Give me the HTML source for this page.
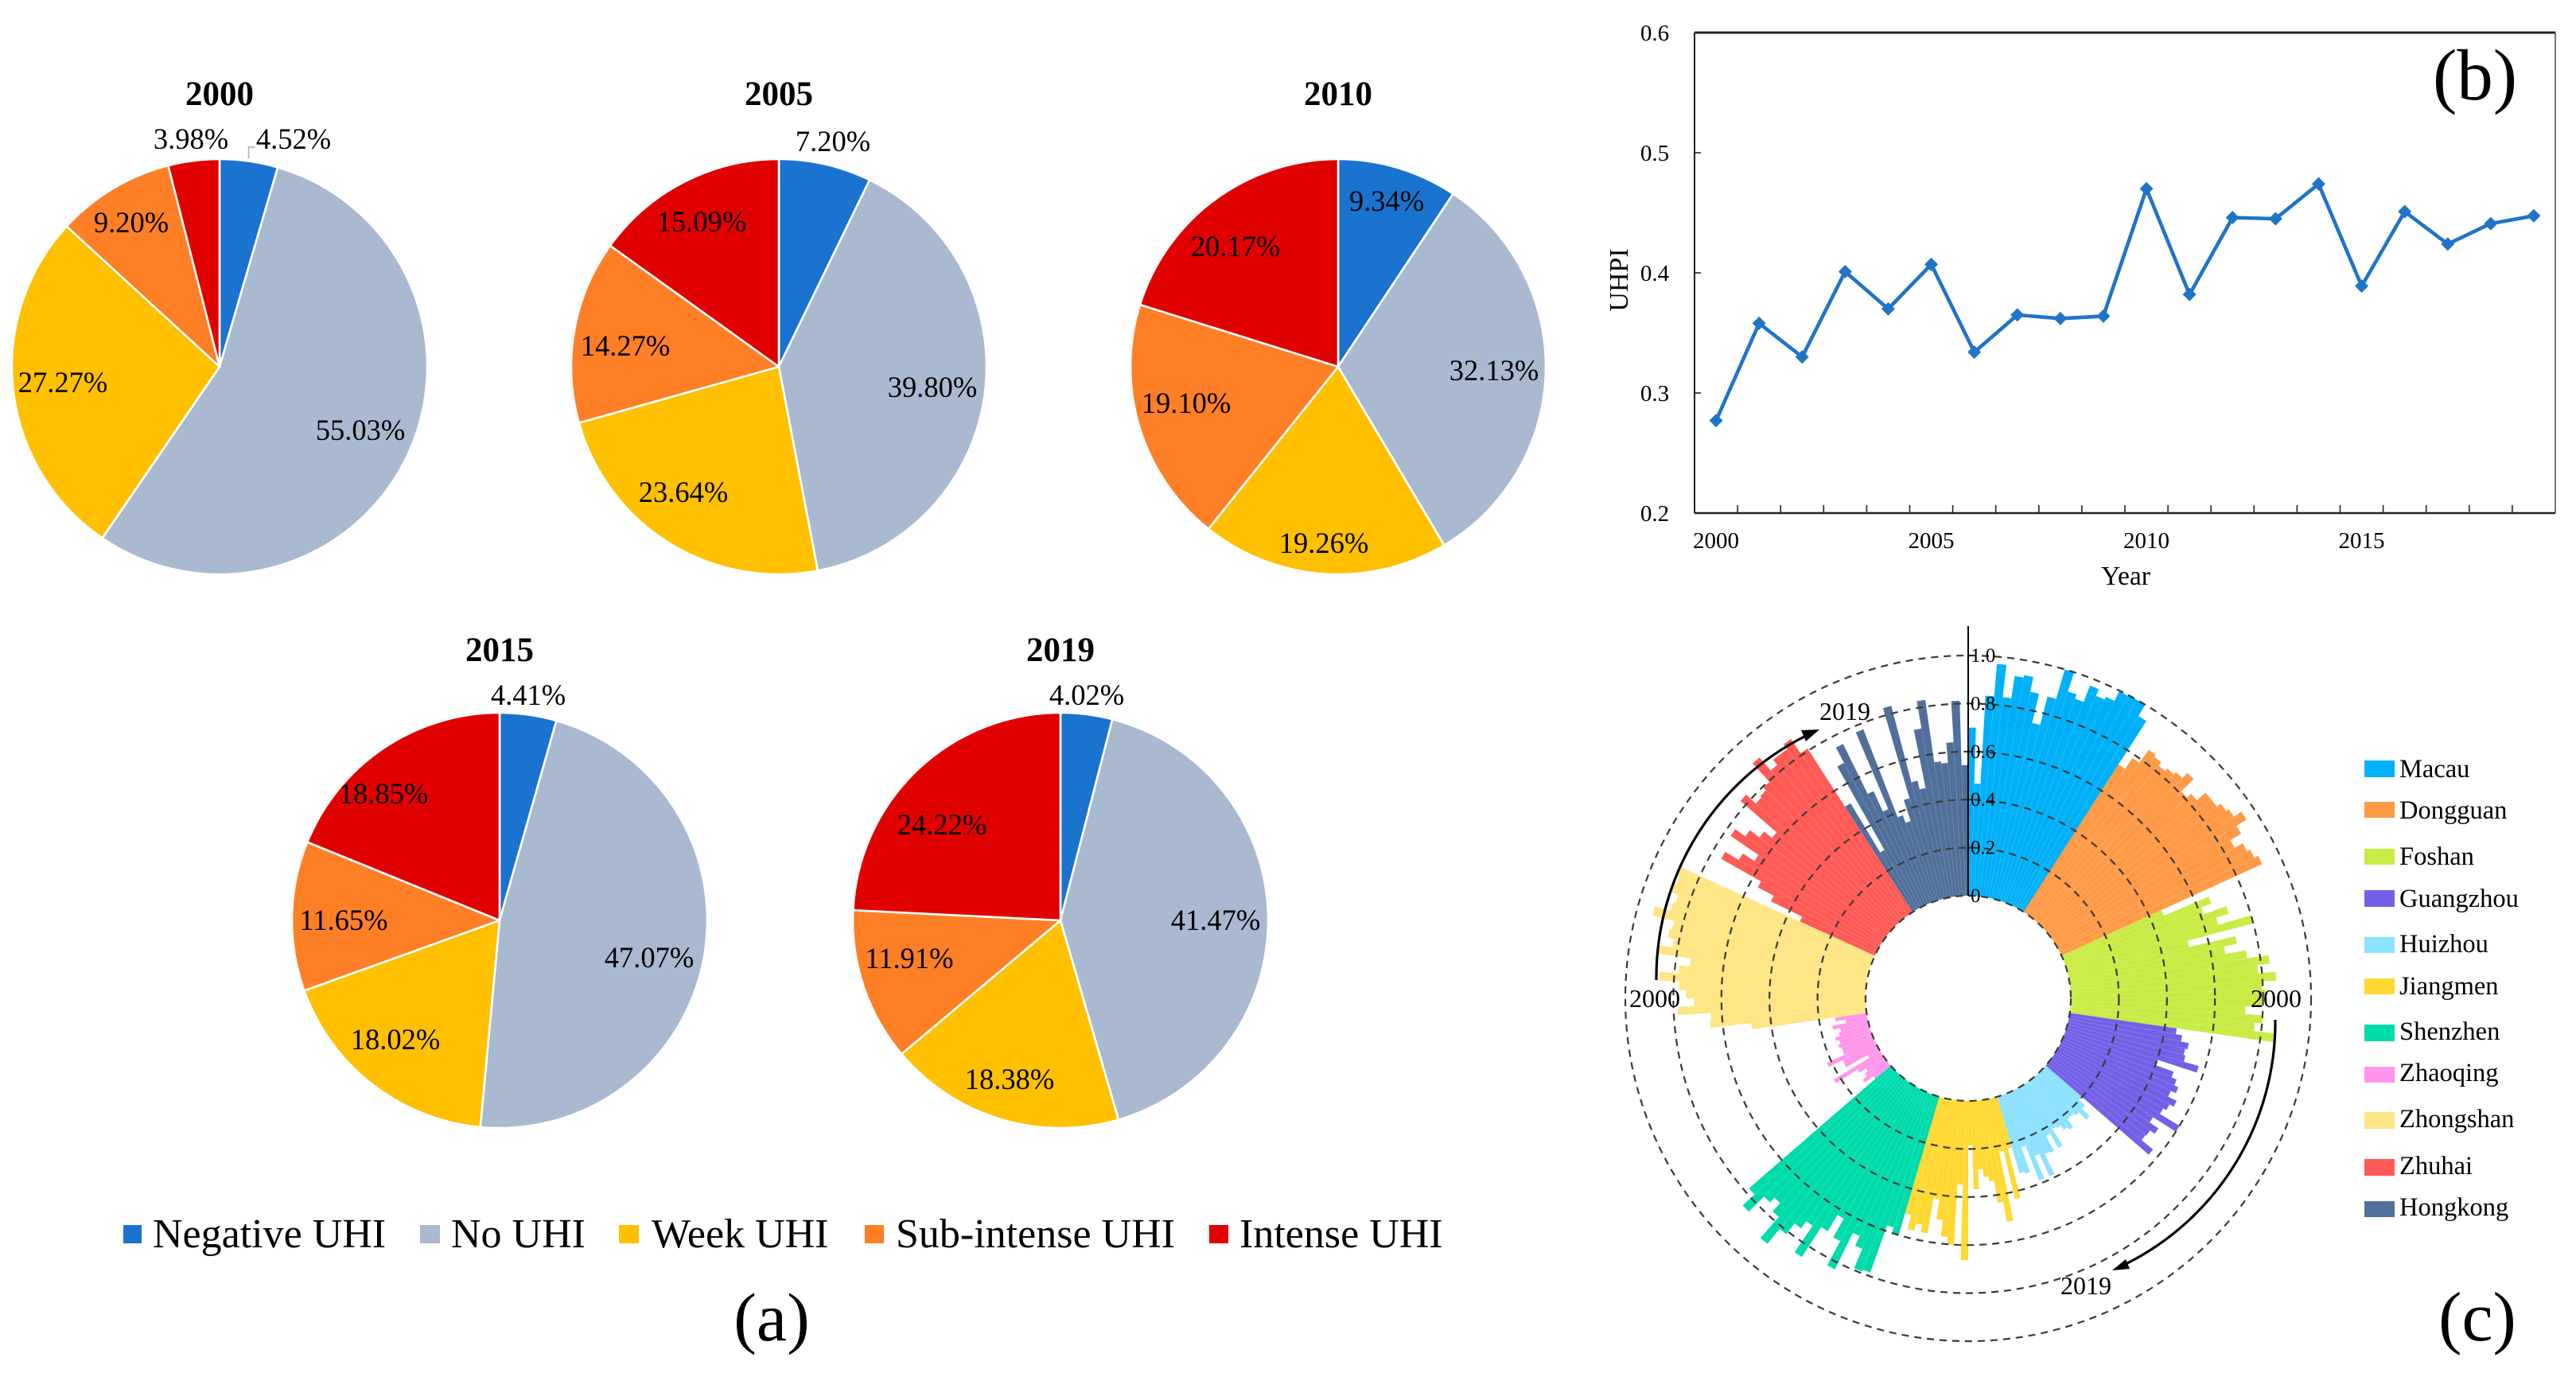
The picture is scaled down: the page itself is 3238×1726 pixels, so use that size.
<!DOCTYPE html>
<html lang="en">
<head>
<meta charset="utf-8">
<title>Urban heat island charts</title>
<style>
html,body{margin:0;padding:0;background:#fff;}
svg{display:block;}
text{font-family:"Liberation Serif",serif;fill:#000;}
.pl{font-size:36.5px;text-anchor:middle;}
.pt{font-size:43px;font-weight:bold;text-anchor:middle;}
.lg{font-size:52px;}
.cl{font-size:32.5px;}
.pn{text-anchor:middle;}
</style>
</head>
<body>
<svg id="fig" xmlns="http://www.w3.org/2000/svg" width="3238" height="1726" viewBox="0 0 3238 1726">
  <rect width="3238" height="1726" fill="#fff"/>
  <g id="pies"></g>

  <g>
    <text class="pt" x="276" y="132">2000</text>
    <text class="pt" x="979" y="132">2005</text>
    <text class="pt" x="1682" y="132">2010</text>
    <text class="pt" x="628" y="831">2015</text>
    <text class="pt" x="1333" y="831">2019</text>
  </g>

  <g>
    <polyline points="312.5,199 312.5,185 320.5,185" fill="none" stroke="#aaa" stroke-width="1.5"/>
    <text class="pl" x="369" y="187">4.52%</text>
    <text class="pl" x="240" y="187">3.98%</text>
    <text class="pl" x="165" y="292">9.20%</text>
    <text class="pl" x="79" y="493">27.27%</text>
    <text class="pl" x="453" y="553">55.03%</text>

    <text class="pl" x="1047" y="190">7.20%</text>
    <text class="pl" x="1172" y="499">39.80%</text>
    <text class="pl" x="859" y="631">23.64%</text>
    <text class="pl" x="786" y="447">14.27%</text>
    <text class="pl" x="882" y="291">15.09%</text>

    <text class="pl" x="1743" y="265">9.34%</text>
    <text class="pl" x="1878" y="478">32.13%</text>
    <text class="pl" x="1664" y="695">19.26%</text>
    <text class="pl" x="1491" y="519">19.10%</text>
    <text class="pl" x="1553" y="322">20.17%</text>

    <text class="pl" x="664" y="886">4.41%</text>
    <text class="pl" x="816" y="1216">47.07%</text>
    <text class="pl" x="497" y="1319">18.02%</text>
    <text class="pl" x="432" y="1169">11.65%</text>
    <text class="pl" x="482" y="1010">18.85%</text>

    <text class="pl" x="1366" y="886">4.02%</text>
    <text class="pl" x="1528" y="1169">41.47%</text>
    <text class="pl" x="1269" y="1369">18.38%</text>
    <text class="pl" x="1143" y="1217">11.91%</text>
    <text class="pl" x="1184" y="1049">24.22%</text>
  </g>

  <g>
    <rect x="155" y="1540" width="23" height="23" fill="#1a73ce"/>
    <text class="lg" x="192" y="1568">Negative UHI</text>
    <rect x="528" y="1540" width="25" height="23" fill="#a9b9cf"/>
    <text class="lg" x="567" y="1568">No UHI</text>
    <rect x="778" y="1540" width="25" height="23" fill="#ffc000"/>
    <text class="lg" x="819" y="1568">Week UHI</text>
    <rect x="1087" y="1540" width="24" height="23" fill="#ff7f27"/>
    <text class="lg" x="1126" y="1568">Sub-intense UHI</text>
    <rect x="1520" y="1540" width="24" height="23" fill="#e00000"/>
    <text class="lg" x="1558" y="1568">Intense UHI</text>
  </g>

  <text class="pn" x="970" y="1685" font-size="86">(a)</text>
  <text class="pn" x="3111" y="125" font-size="91">(b)</text>
  <text class="pn" x="3114" y="1685" font-size="88">(c)</text>

  <g id="line">
    <text x="2672" y="735" font-size="33.5" text-anchor="middle">Year</text>
    <text x="0" y="0" font-size="34" text-anchor="middle" transform="translate(2046,352) rotate(-90)">UHPI</text>
  </g>

  <g id="radial"></g>

  <g>
    <text x="2080" y="1266" font-size="32" text-anchor="middle">2000</text>
    <text x="2861" y="1266" font-size="32" text-anchor="middle">2000</text>
    <text x="2319" y="905" font-size="32" text-anchor="middle">2019</text>
    <text x="2622" y="1627" font-size="32" text-anchor="middle">2019</text>
    <path d="M2082 1232 A340 340 0 0 1 2270 925" fill="none" stroke="#000" stroke-width="3.2"/>
    <polygon points="2287,917 2264,918 2270,932" fill="#000"/>
    <path d="M2860 1282 A340 340 0 0 1 2672 1589" fill="none" stroke="#000" stroke-width="3.2"/>
    <polygon points="2655,1597 2672,1583 2677,1595" fill="#000"/>
  </g>

  <g>
    <rect x="2972" y="956" width="38" height="21" fill="#00b0f8"/>
    <text class="cl" x="3016" y="977">Macau</text>
    <rect x="2972" y="1008" width="38" height="20" fill="#ff9a47"/>
    <text class="cl" x="3016" y="1029">Dongguan</text>
    <rect x="2972" y="1067" width="38" height="20" fill="#c9ec45"/>
    <text class="cl" x="3016" y="1087">Foshan</text>
    <rect x="2972" y="1119" width="38" height="21" fill="#7261e6"/>
    <text class="cl" x="3016" y="1140">Guangzhou</text>
    <rect x="2972" y="1178" width="38" height="20" fill="#8ce2ff"/>
    <text class="cl" x="3016" y="1197">Huizhou</text>
    <rect x="2972" y="1230" width="38" height="20" fill="#ffd932"/>
    <text class="cl" x="3016" y="1250">Jiangmen</text>
    <rect x="2972" y="1288" width="38" height="21" fill="#00dbab"/>
    <text class="cl" x="3016" y="1307">Shenzhen</text>
    <rect x="2972" y="1341" width="38" height="20" fill="#ff96eb"/>
    <text class="cl" x="3016" y="1359">Zhaoqing</text>
    <rect x="2972" y="1398" width="38" height="21" fill="#ffe684"/>
    <text class="cl" x="3016" y="1417">Zhongshan</text>
    <rect x="2972" y="1457" width="38" height="21" fill="#ff5a55"/>
    <text class="cl" x="3016" y="1476">Zhuhai</text>
    <rect x="2972" y="1510" width="38" height="20" fill="#516f9b"/>
    <text class="cl" x="3016" y="1528">Hongkong</text>
  </g>
</svg>

<script>
// ---- pie data (percent): negative, no, week, sub-intense, intense
const pie2000 = [4.52, 55.03, 27.27, 9.20, 3.98];
const pie2005 = [7.20, 39.80, 23.64, 14.27, 15.09];
const pie2010 = [9.34, 32.13, 19.26, 19.10, 20.17];
const pie2015 = [4.41, 47.07, 18.02, 11.65, 18.85];
const pie2019 = [4.02, 41.47, 18.38, 11.91, 24.22];
const uhiClasses = ['negative', 'no', 'week', 'sub-intense', 'intense'];

// ---- line chart data
const lineYears = [2000,2001,2002,2003,2004,2005,2006,2007,2008,2009,2010,2011,2012,2013,2014,2015,2016,2017,2018,2019];
const uhpiValues = [0.277,0.358,0.330,0.401,0.370,0.407,0.334,0.365,0.362,0.364,0.470,0.382,0.446,0.445,0.474,0.389,0.451,0.424,0.441,0.4475];
const lineYTicks = [0.2,0.3,0.4,0.5,0.6];
const lineXLabels = [2000,2005,2010,2015];

// ---- radial chart data (one value per year, 2000..2019)
const macau = [.70,.467,.835,.97,.835,.928,.938,.875,.75,.872,1.0,.916,.897,.97,.94,.953,.997,1.0,1.0,.945];
const dongguan = [.73,.785,.852,.842,.825,.839,.852,.882,.809,.832,.88,.88,.90,.913,.95,.90,.847,.885,.90,.918];
const foshan = [.457,.659,.614,.713,.659,.80,.517,.714,.659,.746,.836,.784,.857,.797,.812,.795,.728,.803,.77,.859];
const guangzhou = [.45,.477,.51,.50,.508,.573,.403,.481,.504,.523,.50,.54,.52,.505,.60,.488,.532,.509,.505,.567];
const huizhou = [.20,.233,.278,.235,.224,.225,.263,.25,.227,.22,.30,.23,.30,.295,.387,.285,.387,.231,.34,.332];
const jiangmen = [.22,.43,.224,.517,.432,.34,.32,.286,.368,.185,.663,.349,.60,.57,.502,.417,.566,.535,.566,.505];
const shenzhen = [.597,.576,.785,.793,.705,.661,.83,.715,.626,.705,.853,.72,.756,.813,.893,.777,.73,.757,.847,.78];
const zhaoqing = [.084,.128,.104,.09,.121,.227,.053,.157,.155,.22,.14,.138,.147,.137,.15,.13,.12,.15,.092,.133];
const zhongshan = [.481,.652,.646,.783,.714,.747,.777,.862,.784,.738,.882,.822,.849,.838,.933,.864,.854,.892,.877,.883];
const zhuhai = [.343,.488,.563,.754,.688,.63,.771,.72,.67,.628,.827,.773,.78,.796,.90,.828,.855,.855,.88,.809];
const hongkong = [.521,.282,.681,.753,.521,.428,.775,.382,.349,.441,.832,.503,.466,.713,.828,.566,.557,.641,.812,.544];
const radialTicks = [0,0.2,0.4,0.6,0.8,1.0];
const radialTickLabels = ['0','0.2','0.4','0.6','0.8','1.0'];

const NS = 'http://www.w3.org/2000/svg';
function mk(tag, parent, attrs){
  const e = document.createElementNS(NS, tag);
  for (const k in attrs) e.setAttribute(k, attrs[k]);
  parent.appendChild(e);
  return e;
}

// ---------- pies ----------
const piesG = document.getElementById('pies');
function drawPie(year, values, cx, cy, r, colors){
  const total = values.reduce((a,b)=>a+b,0);
  const toAngle = v => v/total*2*Math.PI;
  let acc = 0;
  values.forEach((v,i)=>{
    const a0 = toAngle(acc), a1 = toAngle(acc+v);
    acc += v;
    const x0 = cx+r*Math.sin(a0), y0 = cy-r*Math.cos(a0);
    const x1 = cx+r*Math.sin(a1), y1 = cy-r*Math.cos(a1);
    const large = (a1-a0)>Math.PI?1:0;
    const p = mk('path', piesG, {
      d:`M${cx} ${cy}L${x0.toFixed(2)} ${y0.toFixed(2)}A${r} ${r} 0 ${large} 1 ${x1.toFixed(2)} ${y1.toFixed(2)}Z`,
      fill:colors[i], stroke:'#fff', 'stroke-width':2.6, 'stroke-linejoin':'round'
    });
    
    
  });
}
const sliceColors = ['#1a73ce','#a9b9cf','#ffc000','#ff7f27','#e00000'];
drawPie('2000', pie2000, 276, 461, 261, sliceColors);
drawPie('2005', pie2005, 979, 461, 261, sliceColors);
drawPie('2010', pie2010, 1682, 461, 261, sliceColors);
drawPie('2015', pie2015, 628, 1157, 261, sliceColors);
drawPie('2019', pie2019, 1333, 1157, 261, sliceColors);

// ---------- line chart ----------
const lineG = document.getElementById('line');
const plotL = 2130, plotR = 3212, plotT = 41, plotB = 645;
const bandW = (plotR-plotL)/lineYears.length;
const xScale = i => plotL + bandW*(i+0.5);
const yScale = v => plotB - (v-0.2)/(0.6-0.2)*(plotB-plotT);

const frameL = mk('line', lineG, {x1:plotL,y1:plotT,x2:plotL,y2:plotB,stroke:'#222','stroke-width':2});


const frameB = mk('line', lineG, {x1:plotL,y1:plotB,x2:plotR,y2:plotB,stroke:'#222','stroke-width':2.4});


const frameT = mk('line', lineG, {x1:plotL,y1:plotT,x2:plotR,y2:plotT,stroke:'#222','stroke-width':3});


const frameR = mk('line', lineG, {x1:plotR,y1:plotT,x2:plotR,y2:plotB,stroke:'#555','stroke-width':1.6});



lineYTicks.forEach(t=>{
  const y = yScale(t);
  const tk = mk('line', lineG, {x1:plotL,y1:y,x2:plotL+8,y2:y,stroke:'#222','stroke-width':1.6});
  
  
  const lb = mk('text', lineG, {x:2080,y:y+10,'font-size':29,'text-anchor':'middle'});
  lb.textContent = t.toFixed(1);
  
  
});
lineYears.forEach((yr,i)=>{
  if(i===0) return;
  const x = plotL+bandW*i;
  const tk = mk('line', lineG, {x1:x,y1:plotB,x2:x,y2:plotB-10,stroke:'#222','stroke-width':1.6});
  
  
});
lineXLabels.forEach(yr=>{
  const lb = mk('text', lineG, {x:xScale(lineYears.indexOf(yr)),y:689,'font-size':29,'text-anchor':'middle'});
  lb.textContent = String(yr);
  
  
});
const linePts = uhpiValues.map((v,i)=>xScale(i).toFixed(1)+','+yScale(v).toFixed(1)).join(' ');
const uhpiLine = mk('polyline', lineG, {points:linePts,fill:'none',stroke:'#1f74c8','stroke-width':4.6,'stroke-linejoin':'round'});


uhpiValues.forEach((v,i)=>{
  const x = xScale(i), y = yScale(v), d = 8.5;
  const m = mk('polygon', lineG, {points:`${x},${y-d} ${x+d},${y} ${x},${y+d} ${x-d},${y}`,fill:'#1f74c8'});
  
  
});

// ---------- radial chart ----------
const radG = document.getElementById('radial');
const rcx = 2474, rcy = 1255, r0 = 129, rUnit = 302;
const cityCount = 11;
const radiusOf = v => r0 + v*rUnit;
const barAngle = (cityIndex, yearIndex) => (cityIndex + yearIndex/20) * (2*Math.PI/cityCount);
const polar = (a, r) => [rcx + r*Math.sin(a), rcy - r*Math.cos(a)];

function drawCity(values, cityIndex, color, name){
  values.forEach((v,i)=>{
    const a0 = barAngle(cityIndex,i), a1 = barAngle(cityIndex,i+1);
    const [ax,ay] = polar(a0,r0), [bx,by] = polar(a0,radiusOf(v));
    const [cx,cy] = polar(a1,radiusOf(v)), [dx,dy] = polar(a1,r0);
    const p = mk('path', radG, {
      d:`M${ax.toFixed(2)} ${ay.toFixed(2)}L${bx.toFixed(2)} ${by.toFixed(2)}L${cx.toFixed(2)} ${cy.toFixed(2)}L${dx.toFixed(2)} ${dy.toFixed(2)}Z`,
      fill:color, stroke:'rgba(255,255,255,0.08)', 'stroke-width':0.7
    });
    
    
  });
}
drawCity(macau, 0, '#00b0f8', 'macau');
drawCity(dongguan, 1, '#ff9a47', 'dongguan');
drawCity(foshan, 2, '#c9ec45', 'foshan');
drawCity(guangzhou, 3, '#7261e6', 'guangzhou');
drawCity(huizhou, 4, '#8ce2ff', 'huizhou');
drawCity(jiangmen, 5, '#ffd932', 'jiangmen');
drawCity(shenzhen, 6, '#00dbab', 'shenzhen');
drawCity(zhaoqing, 7, '#ff96eb', 'zhaoqing');
drawCity(zhongshan, 8, '#ffe684', 'zhongshan');
drawCity(zhuhai, 9, '#ff5a55', 'zhuhai');
drawCity(hongkong, 10, '#516f9b', 'hongkong');

radialTicks.forEach((t,i)=>{
  const c = mk('circle', radG, {cx:rcx,cy:rcy,r:radiusOf(t),fill:'none',stroke:'#3a3a3a','stroke-width':2.2,'stroke-dasharray':'9 7'});
  
  
  const y = rcy - radiusOf(t);
  const tk = mk('line', radG, {x1:rcx,y1:y,x2:rcx+6,y2:y,stroke:'#222','stroke-width':1.6});
  
  
  const lb = mk('text', radG, {x:rcx+3,y:y+8,'font-size':25});
  lb.textContent = radialTickLabels[i];
  
  
});
const radAxis = mk('line', radG, {x1:rcx,y1:787,x2:rcx,y2:rcy-r0,stroke:'#000','stroke-width':2});


</script>
</body>
</html>
